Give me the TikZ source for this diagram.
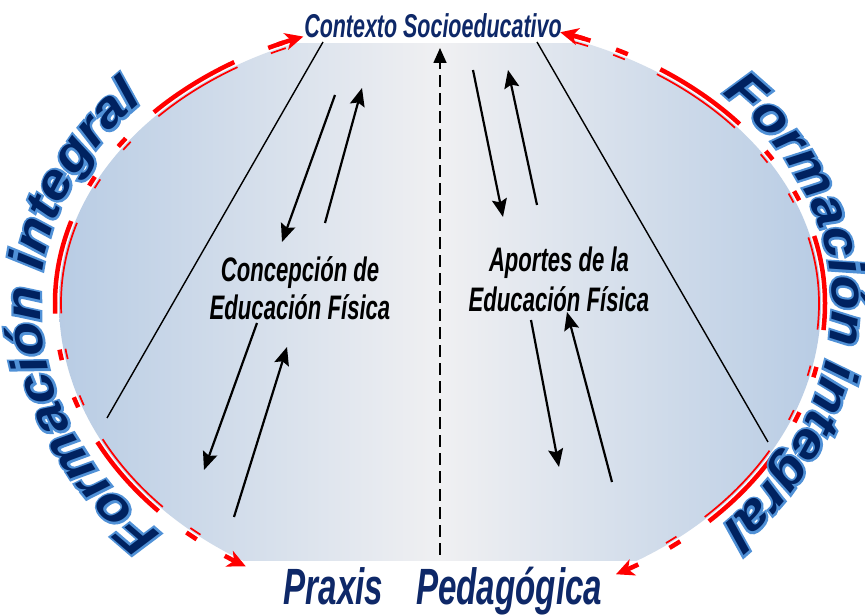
\documentclass[tikz,border=0pt]{standalone}
\usepackage{fontspec}
\usetikzlibrary{arrows.meta,decorations.text}
\newfontfamily\condfont[FakeStretch=0.65]{Liberation Sans}
\newfontfamily\formfont[FakeStretch=1.12]{Liberation Sans}
\newfontfamily\formglowfont[FakeStretch=1.12,FakeBold=9]{Liberation Sans}
\definecolor{navy}{RGB}{14,40,104}
\definecolor{formnavy}{RGB}{0,34,96}
\definecolor{glowblue}{RGB}{80,145,215}
\definecolor{edgeblue}{RGB}{184,204,228}
\definecolor{midgray}{RGB}{240,240,242}
\tikzset{
  redthick/.style={draw=red,line width=4.5pt},
  redthin/.style={draw=red,line width=1.7pt},
  redarrow/.style={draw=red,line width=4.5pt,-{Stealth[length=18pt,width=17pt,inset=5pt]}},
  blackarr/.style={line width=2.2pt,-{Stealth[length=18pt,width=15pt,inset=3pt]}},
  diag/.style={line width=1.4pt},
  intext/.style={font=\condfont\bfseries\itshape\fontsize{34}{34}\selectfont,inner sep=0pt,anchor=base},
}
% red dash segments: top half (math angles 0..180) and bottom half (180..360)
\newcommand\rsegT[2]{%
  \draw[redthick] ([shift={(440,312)}]#1:385 and 285) arc[start angle=#1,end angle=#2,x radius=385,y radius=285];
  \draw[redthin] ([shift={(440,312)}]#1:379 and 279) arc[start angle=#1,end angle=#2,x radius=379,y radius=279];}
\newcommand\rsegB[2]{%
  \draw[redthick] ([shift={(440,312)}]#1:385 and 305) arc[start angle=#1,end angle=#2,x radius=385,y radius=305];
  \draw[redthin] ([shift={(440,312)}]#1:379 and 299) arc[start angle=#1,end angle=#2,x radius=379,y radius=299];}
\newcommand\rarrT[2]{%
  \draw[redarrow] ([shift={(440,312)}]#1:385 and 285) arc[start angle=#1,end angle=#2,x radius=385,y radius=285];}
\newcommand\rarrB[2]{%
  \draw[redarrow] ([shift={(440,312)}]#1:385 and 305) arc[start angle=#1,end angle=#2,x radius=385,y radius=305];}
\begin{document}
\begin{tikzpicture}[x=1pt,y=1pt]
\useasboundingbox (0,0) rectangle (865,615);
\fill[white] (0,0) rectangle (865,615);
% central shaded ellipse
\shade[left color=edgeblue,right color=edgeblue,middle color=midgray]
  (821,312) arc[start angle=0,end angle=180,x radius=381,y radius=281]
  arc[start angle=180,end angle=360,x radius=381,y radius=301] -- cycle;
% white masks behind the top and bottom labels
\fill[white] (296,572) rectangle (573,615);
\fill[white] (225,0) rectangle (665,54);
% coordinates
\coordinate (dlA) at (323,573); \coordinate (dlB) at (107,197);
\coordinate (drA) at (537,573); \coordinate (drB) at (768,173);
\coordinate (cB) at (440,60);   \coordinate (cT) at (440,567);
\coordinate (a1s) at (335,520); \coordinate (a1e) at (282,373);
\coordinate (a2s) at (325,392); \coordinate (a2e) at (362,527);
\coordinate (a3s) at (473,545); \coordinate (a3e) at (503,398);
\coordinate (a4s) at (537,410); \coordinate (a4e) at (508,545);
\coordinate (a5s) at (257,292); \coordinate (a5e) at (204,145);
\coordinate (a6s) at (234,98);  \coordinate (a6e) at (287,268);
\coordinate (a7s) at (531,295); \coordinate (a7e) at (559,148);
\coordinate (a8s) at (612,133); \coordinate (a8e) at (567,303);
% lines
\draw[diag] (dlA) -- (dlB);
\draw[diag] (drA) -- (drB);
\draw[line width=1.6pt,dash pattern=on 12pt off 6pt,-{Triangle[length=15pt,width=13pt]}] (cB) -- (cT);
\foreach \i in {1,...,8}{\draw[blackarr] (a\i s) -- (a\i e);}
% inner texts
\node[intext] (c1) at (300,333) {Concepción de};
\node[intext] (c2) at (300,295) {Educación Física};
\node[intext] (p1) at (559,343) {Aportes de la};
\node[intext] (p2) at (559,303) {Educación Física};
% title and bottom label
\node[font=\condfont\bfseries\itshape\fontsize{33}{33}\selectfont,text=navy,inner sep=0pt,anchor=base] (title) at (433,577) {Contexto Socioeducativo};
\node[font=\condfont\bfseries\itshape\fontsize{51}{51}\selectfont,text=navy,inner sep=0pt,anchor=base] (praxis) at (443,10) {Praxis\hspace{33pt}Pedagógica};
% red double dashed arcs, left side
\rsegT{116.5}{114}
\rarrT{115}{110.8}
\rsegT{138}{122.3}
\rsegT{146.7}{144.7}
\rsegT{155.7}{153.7}
\rsegT{180}{163.3}
\rsegB{182}{180}
\rsegB{190.8}{188.8}
\rsegB{200}{198}
\rsegB{223}{207.1}
\rsegB{230.8}{228.8}
\rarrB{236}{239.7}
% right side
\rsegT{69.5}{67}
\rarrT{68}{71.8}
\rsegT{62.8}{60.8}
\rsegT{55.1}{38.9}
\rsegT{32.2}{30.2}
\rsegT{23.1}{21.1}
\rsegT{13.6}{0}
\rsegB{360}{354.9}
\rsegB{347.9}{345.9}
\rsegB{339}{337}
\rsegB{330.4}{314.3}
\rsegB{308.6}{306.6}
\rarrB{301}{297.2}
% curved texts: glow then navy
\foreach \fnt/\col in {\formglowfont/glowblue,\formfont/formnavy}{
\path[decorate,decoration={text along path,text align=center,
  text={|\color{\col}\fnt\bfseries\itshape\fontsize{50}{50}\selectfont|Formación integral}}]
  ([shift={(440,312)}]261.5:400 and 322) arc[start angle=261.5,end angle=180,x radius=400,y radius=322]
  arc[start angle=180,end angle=101.5,x radius=400,y radius=302];
\path[decorate,decoration={text along path,text align=center,
  text={|\color{\col}\fnt\bfseries\itshape\fontsize{50}{50}\selectfont|Formación integral}}]
  ([shift={(440,312)}]80:392 and 302) arc[start angle=80,end angle=0,x radius=392,y radius=302]
  arc[start angle=0,end angle=-80,x radius=392,y radius=322];
}
\end{tikzpicture}
\end{document}
